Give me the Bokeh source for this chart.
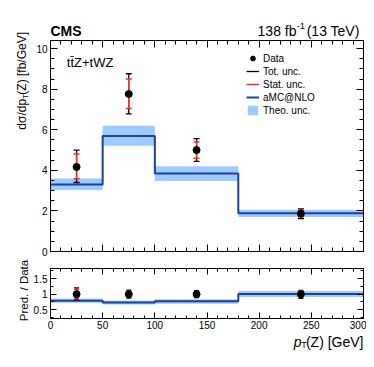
import math
from bokeh.plotting import figure
from bokeh.models import (Range1d, LinearAxis, FixedTicker, Legend, LegendItem,
                          CustomJSTickFormatter)
from bokeh.core.properties import value
from bokeh.layouts import column, row
from bokeh.embed import file_html
from bokeh.resources import INLINE

# ---------------- data ----------------
bin_edges = [0, 50, 100, 180, 300]
bin_centers = [25, 75, 140, 240]
data_xsec = [4.17, 7.76, 5.00, 1.87]
tot_up = [0.83, 1.00, 0.56, 0.23]
tot_down = [0.77, 0.98, 0.56, 0.25]
stat_up = [0.63, 0.74, 0.40, 0.18]
stat_down = [0.59, 0.71, 0.40, 0.17]
pred_xsec = [3.30, 5.69, 3.85, 1.88]
pred_band_up = [3.60, 6.20, 4.20, 2.06]
pred_band_down = [3.03, 5.21, 3.48, 1.70]
x_ticks = [0, 50, 100, 150, 200, 250, 300]
y_ticks_main = [0, 2, 4, 6, 8, 10]
y_ticks_ratio = [0.5, 1, 1.5]

FONT = "Liberation Sans"
BAND = "#9ccbff"
BLUE = "#1f3f9c"
RED = "#ff2a2a"
YMAX = 10.4
RMIN, RMAX = 0.22, 1.82

STRIP_W = 30          # left strip holding the rotated y titles
PW = 336              # width of the panels on the right
ML, MR = 19, 3        # panel borders -> frames span x = 49..363
HEAD_H, MAIN_H, RATIO_H, XLAB_H = 40, 221, 71, 24
TOTAL_H = HEAD_H + MAIN_H + RATIO_H + XLAB_H

x_minor = list(range(0, 301, 10))
y_minor_main = [i * 0.5 for i in range(0, 21)]
y_minor_ratio = [0.25, 0.5, 0.75, 1.0, 1.25, 1.5, 1.75]


def style_axis(ax, ticks, minor, labels, tick_len, minor_len, size="10px", standoff=3):
    ax.ticker = FixedTicker(ticks=ticks, minor_ticks=minor)
    ax.major_tick_in = tick_len
    ax.major_tick_out = 0
    ax.minor_tick_in = minor_len
    ax.minor_tick_out = 0
    ax.axis_line_color = "black"
    ax.major_tick_line_color = "black"
    ax.minor_tick_line_color = "black"
    if labels:
        ax.formatter = CustomJSTickFormatter(code="return String(tick)")
        ax.major_label_text_font = FONT
        ax.major_label_text_font_size = size
        ax.major_label_text_color = "black"
        ax.major_label_standoff = standoff
    else:
        ax.formatter = CustomJSTickFormatter(code="return ''")
        ax.major_label_text_font_size = "0px"
        ax.major_label_standoff = 0


def frame_axes(fig, yticks, yminor, xlabels, tick_len, minor_len):
    style_axis(fig.xaxis[0], x_ticks, x_minor, xlabels, tick_len, minor_len, standoff=2)
    style_axis(fig.yaxis[0], yticks, yminor, True, tick_len, minor_len)
    top = LinearAxis()
    style_axis(top, x_ticks, x_minor, False, tick_len, minor_len)
    fig.add_layout(top, "above")
    right = LinearAxis()
    style_axis(right, yticks, yminor, False, tick_len, minor_len)
    fig.add_layout(right, "right")
    fig.xgrid.visible = False
    fig.ygrid.visible = False
    fig.outline_line_color = "black"
    fig.background_fill_color = "white"
    fig.border_fill_color = "white"


def draw(fig, centers, val, tu, td, su, sd, pred, bu, bd, cap=6):
    band = fig.quad(left=bin_edges[:-1], right=bin_edges[1:], bottom=bd, top=bu,
                    fill_color=BAND, line_color=None)
    line = fig.step(x=bin_edges, y=list(pred) + [pred[-1]], mode="after",
                    line_color=BLUE, line_width=2)
    t_lo = [v - d for v, d in zip(val, td)]
    t_hi = [v + u for v, u in zip(val, tu)]
    s_lo = [v - d for v, d in zip(val, sd)]
    s_hi = [v + u for v, u in zip(val, su)]
    tot = fig.segment(x0=centers, y0=t_lo, x1=centers, y1=t_hi, line_color="black", line_width=1.3)
    fig.scatter(centers + centers, t_lo + t_hi, marker="dash", size=cap, line_color="black", line_width=1.3)
    stat = fig.segment(x0=centers, y0=s_lo, x1=centers, y1=s_hi, line_color=RED, line_width=1.5)
    fig.scatter(centers + centers, s_lo + s_hi, marker="dash", size=cap, line_color=RED, line_width=1.5)
    pts = fig.scatter(centers, val, marker="circle", size=7, fill_color="black", line_color="black")
    return pts, tot, stat, line, band


def text_fig(width, height, x_range, y_range, ml=0, mr=0):
    f = figure(width=width, height=height, x_range=x_range, y_range=y_range,
               x_axis_type=None, y_axis_type=None, output_backend="svg", toolbar_location=None,
               min_border_left=ml, min_border_right=mr, min_border_top=0, min_border_bottom=0)
    f.outline_line_color = None
    f.background_fill_color = "white"
    f.border_fill_color = "white"
    return f


def put(f, x, y, txt, size, align="left", style="normal", angle=0.0, dx=0.0, baseline="alphabetic"):
    f.text(x=[x], y=[y], text=[txt], text_font=value(FONT), text_font_size=value(size),
           text_font_style=value(style), text_align=value(align), text_baseline=value(baseline),
           angle=angle, x_offset=dx, text_color="black")


# ---------------- header ----------------
head = text_fig(PW, HEAD_H, Range1d(0, 300), Range1d(0, HEAD_H), ML, MR)
put(head, 0, 9.3, "CMS", "14px", style="bold")
put(head, 300, 9.3, " (13 TeV)", "14px", align="right")
put(head, 300, 15.0, "-1", "9.5px", align="right", dx=-58.4)
put(head, 300, 9.3, "138 fb", "14px", align="right", dx=-67.0)

# ---------------- main panel ----------------
p = figure(width=PW, height=MAIN_H, x_range=Range1d(0, 300), y_range=Range1d(0, YMAX),
           output_backend="svg", toolbar_location=None,
           min_border_left=ML, min_border_right=MR, min_border_top=0, min_border_bottom=10)
frame_axes(p, y_ticks_main, y_minor_main, False, 7, 4)
pts, tot, stat, line, band = draw(p, bin_centers, data_xsec, tot_up, tot_down, stat_up, stat_down,
                                  pred_xsec, pred_band_up, pred_band_down)

legend = Legend(items=[
    LegendItem(label="Data", renderers=[pts]),
    LegendItem(label="Tot. unc.", renderers=[tot]),
    LegendItem(label="Stat. unc.", renderers=[stat]),
    LegendItem(label="aMC@NLO", renderers=[line]),
    LegendItem(label="Theo. unc.", renderers=[band]),
], location=(196, 135))
legend.background_fill_alpha = 0
legend.border_line_color = None
legend.padding = 0
legend.margin = 0
legend.spacing = 1
legend.glyph_width = 13
legend.glyph_height = 12
legend.label_height = 12
legend.label_standoff = 4
legend.label_text_font = FONT
legend.label_text_font_size = "10px"
legend.label_text_color = "black"
p.add_layout(legend, "center")

p.text(x=[0], y=[YMAX], text=["tt\u0304Z+tWZ"], text_font=value(FONT), text_font_size=value("13px"),
       text_align=value("left"), text_baseline=value("alphabetic"), x_offset=16.3, y_offset=22.0,
       text_color="black")

# ---------------- ratio panel ----------------
ratio_val = [1.0 for _ in data_xsec]
r_tot_up = [u / v for u, v in zip(tot_up, data_xsec)]
r_tot_down = [d / v for d, v in zip(tot_down, data_xsec)]
r_stat_up = [u / v for u, v in zip(stat_up, data_xsec)]
r_stat_down = [d / v for d, v in zip(stat_down, data_xsec)]
r_pred = [pr / v for pr, v in zip(pred_xsec, data_xsec)]
r_band_up = [b / v for b, v in zip(pred_band_up, data_xsec)]
r_band_down = [b / v for b, v in zip(pred_band_down, data_xsec)]

r = figure(width=PW, height=RATIO_H, x_range=p.x_range, y_range=Range1d(RMIN, RMAX),
           output_backend="svg", toolbar_location=None,
           min_border_left=ML, min_border_right=MR, min_border_top=7, min_border_bottom=14)
frame_axes(r, y_ticks_ratio, y_minor_ratio, True, 6, 3)
draw(r, bin_centers, ratio_val, r_tot_up, r_tot_down, r_stat_up, r_stat_down,
     r_pred, r_band_up, r_band_down, cap=5)

# ---------------- x title ----------------
xl = text_fig(PW, XLAB_H, Range1d(0, 300), Range1d(0, XLAB_H), ML, MR)
put(xl, 300, 14.5, "(Z) [GeV]", "14px", align="right")
put(xl, 300, 11.5, "T", "9px", align="right", dx=-56.8)
put(xl, 300, 14.5, "p", "14px", align="right", style="italic", dx=-62.0)

# ---------------- left strip with rotated titles ----------------
strip = text_fig(STRIP_W, TOTAL_H, Range1d(0, STRIP_W), Range1d(0, TOTAL_H))
A = math.pi / 2
top_end = TOTAL_H - 31.5
put(strip, 21.7, top_end, "(Z) [fb/GeV]", "12px", align="right", angle=A, baseline="middle")
put(strip, 25.2, top_end - 62.0, "T", "8px", align="right", angle=A, baseline="middle")
put(strip, 21.7, top_end - 66.9, "d\u03c3/dp", "12px", align="right", angle=A, baseline="middle")
put(strip, 23.0, TOTAL_H - 290.0, "Pred. / Data", "11.5px", align="center", angle=A, baseline="middle")

layout = row(strip, column(head, p, r, xl, spacing=0), spacing=0)
open("out.html", "w").write(file_html(layout, INLINE))
